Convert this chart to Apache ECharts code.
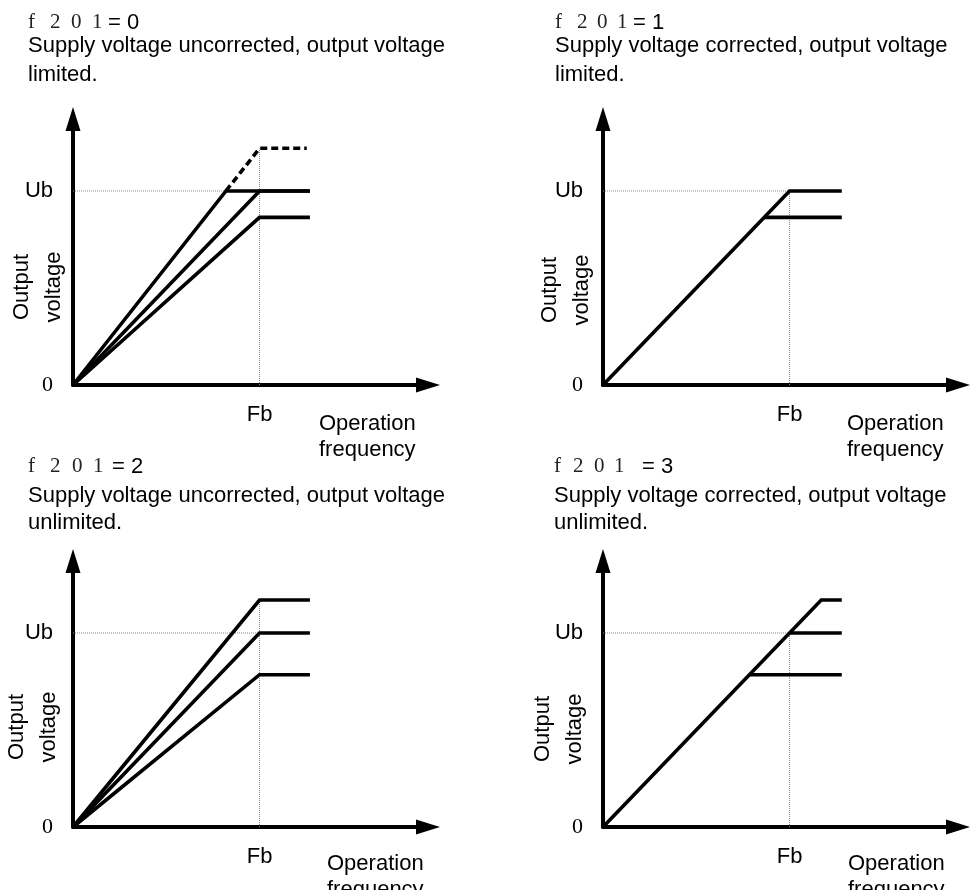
<!DOCTYPE html>
<html><head><meta charset="utf-8">
<script src="https://cdn.jsdelivr.net/npm/echarts@6/dist/echarts.min.js"></script>
<style>html,body{margin:0;padding:0;background:#fff}#c{width:977px;height:890px}</style>
</head><body><div id="c"></div>
<script>
// ---------- DATA (x in % of Fb, y in % of Ub) ----------
const panelCodes = ['0', '1', '2', '3'];
const titleLine1 = ['Supply voltage uncorrected, output voltage', 'Supply voltage corrected, output voltage',
                    'Supply voltage uncorrected, output voltage', 'Supply voltage corrected, output voltage'];
const titleLine2 = ['limited.', 'limited.', 'unlimited.', 'unlimited.'];
const xTickLabels = { 100: 'Fb' };
const yTickLabels = { 0: '0', 100: 'Ub' };
const xAxisName = 'Operation\nfrequency';
const yAxisName = 'Output\nvoltage';

// panel f201 = 0
const p0Steep     = [[0, 0], [82, 100], [127, 100]];
const p0Nominal   = [[0, 0], [100, 100], [127, 100]];
const p0Low       = [[0, 0], [100, 86.4], [127, 86.4]];
const p0Unlimited = [[82, 100], [100, 122], [125.3, 122]];
const p0GuideV    = [[100, 0], [100, 122]];
// panel f201 = 1
const p1Nominal   = [[0, 0], [100, 100], [128, 100]];
const p1Low       = [[86.4, 86.4], [128, 86.4]];
const p1GuideV    = [[100, 0], [100, 100]];
// panel f201 = 2
const p2High      = [[0, 0], [100, 117], [127, 117]];
const p2Nominal   = [[0, 0], [100, 100], [127, 100]];
const p2Low       = [[0, 0], [100, 78.5], [127, 78.5]];
const p2GuideV    = [[100, 0], [100, 117]];
// panel f201 = 3
const p3High      = [[0, 0], [117, 117], [128, 117]];
const p3Nominal   = [[100, 100], [128, 100]];
const p3Low       = [[78.5, 78.5], [128, 78.5]];
const p3GuideV    = [[100, 0], [100, 100]];
// shared guide
const guideH      = [[0, 100], [100, 100]];

const xMax = 190.3, yMax = 137.1;

// ---------- LAYOUT ----------
const SANS = "'Liberation Sans', Arial, sans-serif";
const SERIF = "'Liberation Serif', 'Times New Roman', serif";
const grids = [
  { left: 73, top: 119, width: 355, height: 266 },
  { left: 603, top: 119, width: 355, height: 266 },
  { left: 73, top: 561, width: 355, height: 266 },
  { left: 603, top: 561, width: 355, height: 266 }
];
const panelLeft = [28, 555, 28, 554];
const codeX = [[0, 22, 43, 64, 80], [0, 22, 42, 62, 78], [0, 22, 44, 65, 84], [0, 19, 40, 60, 88]];
const rowMid = [[22, 45.7, 75.3], [22, 45.7, 75.3], [466, 495.7, 523.3], [466, 495.7, 523.3]];
const yNamePos = [[38, 287], [566, 290], [33, 727], [559, 729]];
const xNamePos = [[319, 410.5], [847, 410.5], [327, 850.5], [848, 850.5]];

const panels = [
  { solid: [p0Steep, p0Nominal, p0Low], dashed: [p0Unlimited], guideV: p0GuideV },
  { solid: [p1Nominal, p1Low], dashed: [], guideV: p1GuideV },
  { solid: [p2High, p2Nominal, p2Low], dashed: [], guideV: p2GuideV },
  { solid: [p3High, p3Nominal, p3Low], dashed: [], guideV: p3GuideV }
];

const xAxes = [], yAxes = [], series = [], graphics = [];
panels.forEach((p, i) => {
  const axisLine = { show: true, onZero: false, symbol: ['none', 'triangle'], symbolSize: [15, 24],
                     lineStyle: { color: '#000', width: 4 } };
  xAxes.push({ gridIndex: i, type: 'value', min: 0, max: xMax, interval: 100,
    axisLine: axisLine, axisTick: { show: false }, splitLine: { show: false },
    axisLabel: { margin: 19, formatter: v => xTickLabels[v] || '', color: '#000',
                 fontFamily: SANS, fontSize: 22, showMaxLabel: false } });
  yAxes.push({ gridIndex: i, type: 'value', min: 0, max: yMax, interval: 100,
    axisLine: axisLine, axisTick: { show: false }, splitLine: { show: false },
    axisLabel: { margin: 20, showMaxLabel: false,
      formatter: v => v === 0 ? '{s|' + yTickLabels[0] + '}' : (yTickLabels[v] ? '{u|' + yTickLabels[v] + '}' : ''),
      rich: { s: { fontFamily: SERIF, fontSize: 22, color: '#000' },
              u: { fontFamily: SANS, fontSize: 22, color: '#000' } } } });
  const guideStyle = { color: '#888', width: 1, type: 'dotted' };
  [guideH, p.guideV].forEach(d => series.push({ type: 'line', xAxisIndex: i, yAxisIndex: i, data: d,
    symbol: 'none', silent: true, z: 1, lineStyle: guideStyle }));
  p.solid.forEach(d => series.push({ type: 'line', xAxisIndex: i, yAxisIndex: i, data: d,
    symbol: 'none', z: 3, lineStyle: { color: '#000', width: 3.6, join: 'miter', cap: 'butt' } }));
  p.dashed.forEach(d => series.push({ type: 'line', xAxisIndex: i, yAxisIndex: i, data: d,
    symbol: 'none', z: 3, lineStyle: { color: '#000', width: 3.6, type: [7, 4] } }));

  // titles
  const lx = panelLeft[i];
  ['f', '2', '0', '1'].forEach((ch, k) => graphics.push({ type: 'text', x: lx + codeX[i][k], y: rowMid[i][0],
    style: { text: ch, font: '21px ' + SERIF, fill: '#222', align: 'left', verticalAlign: 'middle' } }));
  graphics.push({ type: 'text', x: lx + codeX[i][4], y: rowMid[i][0] + 1,
    style: { text: '= ' + panelCodes[i], font: '22px ' + SANS, fill: '#000', align: 'left', verticalAlign: 'middle' } });
  graphics.push({ type: 'text', x: lx, y: rowMid[i][1],
    style: { text: titleLine1[i], font: '22px ' + SANS, fill: '#000', align: 'left', verticalAlign: 'middle' } });
  graphics.push({ type: 'text', x: lx, y: rowMid[i][2],
    style: { text: titleLine2[i], font: '22px ' + SANS, fill: '#000', align: 'left', verticalAlign: 'middle' } });
  // axis names
  graphics.push({ type: 'text', x: yNamePos[i][0], y: yNamePos[i][1], rotation: Math.PI / 2,
    style: { text: yAxisName, font: '22px ' + SANS, fill: '#000', align: 'center', verticalAlign: 'middle', lineHeight: 32 } });
  graphics.push({ type: 'text', x: xNamePos[i][0], y: xNamePos[i][1],
    style: { text: xAxisName, font: '22px ' + SANS, fill: '#000', align: 'left', verticalAlign: 'top', lineHeight: 26 } });
});

const chart = echarts.init(document.getElementById('c'), null, { renderer: 'canvas' });
chart.setOption({
  animation: false,
  backgroundColor: '#fff',
  grid: grids,
  xAxis: xAxes,
  yAxis: yAxes,
  series: series,
  graphic: { elements: graphics }
});
</script>
</body></html>
